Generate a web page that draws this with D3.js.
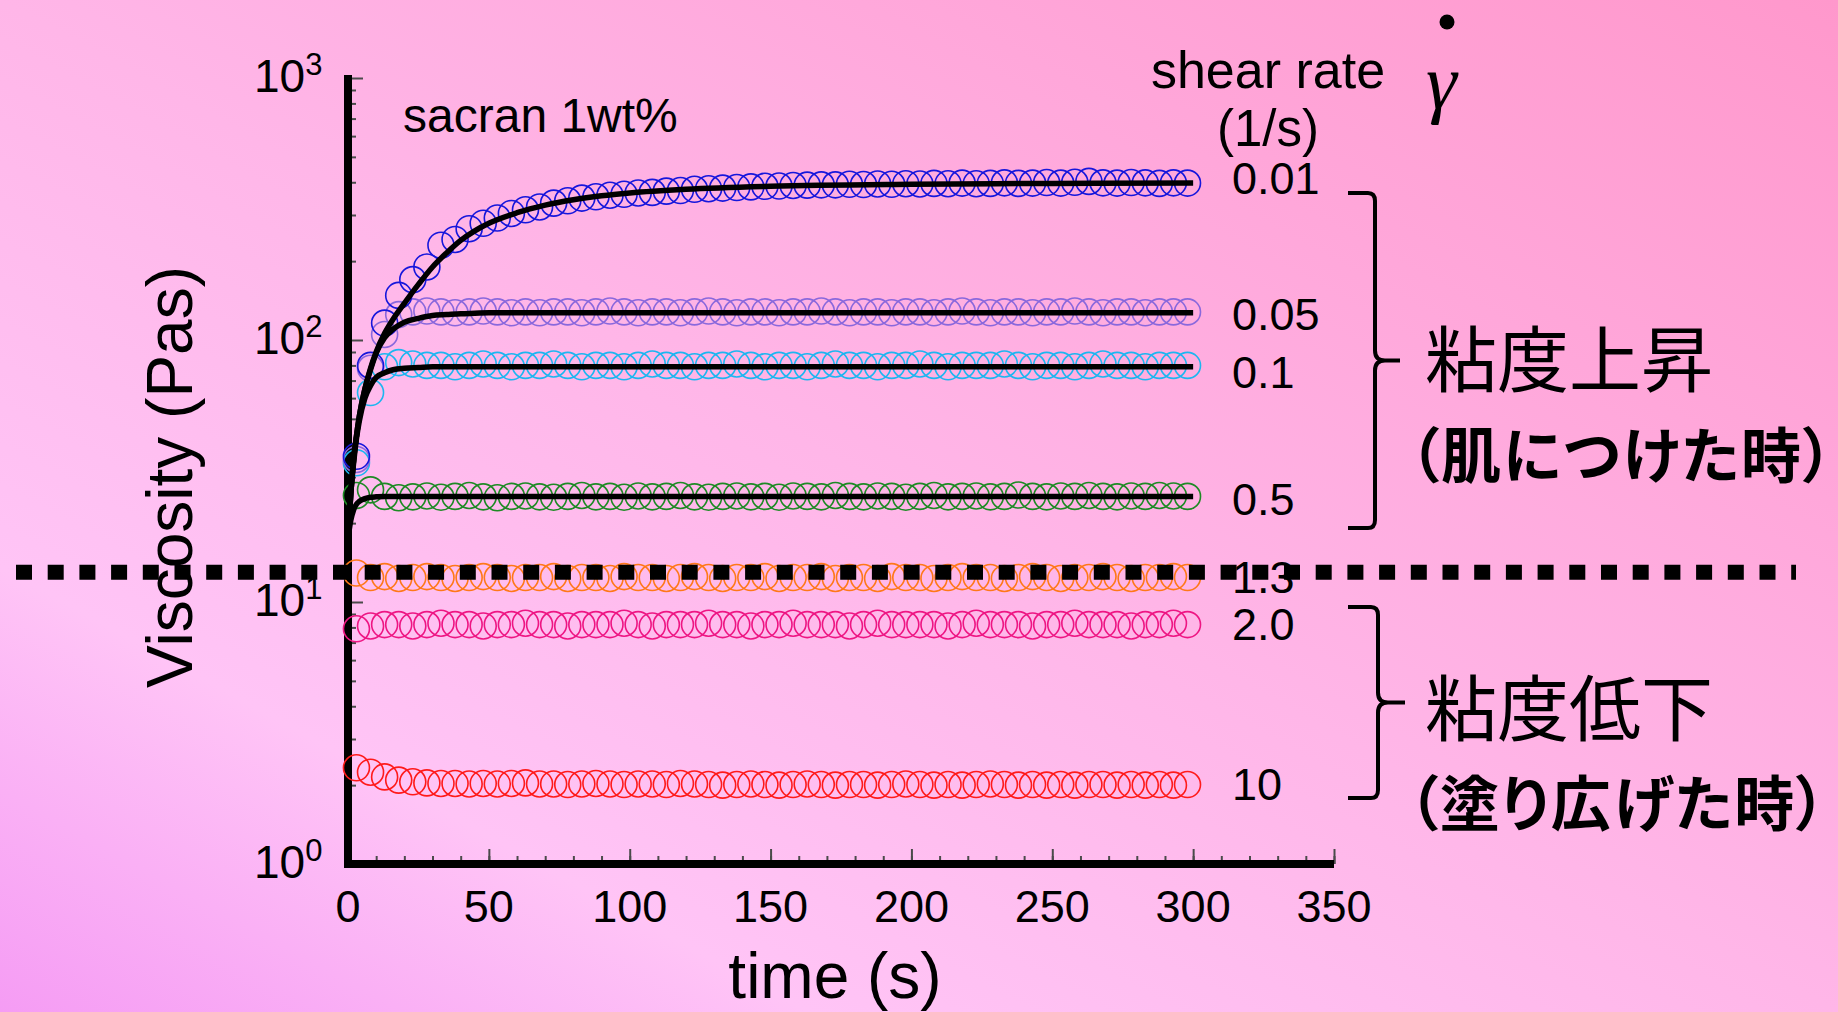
<!DOCTYPE html>
<html>
<head>
<meta charset="utf-8">
<script src="https://cdn.jsdelivr.net/npm/d3@7"></script>
<style>
  html, body { margin: 0; padding: 0; overflow: hidden; }
  svg { display: block; }
  text { font-family: "Liberation Sans", Arial, sans-serif; fill: #000; }
  .jp { font-family: "Noto Sans CJK JP", sans-serif; }
</style>
</head>
<body>
<svg id="chart" width="1838" height="1012"></svg>
<script>
// measured time points (s)
var timePoints = [3,8,13,18,23,28,33,38,43,48,53,58,63,68,73,78,83,88,93,98,
  103,108,113,118,123,128,133,138,143,148,153,158,163,168,173,178,183,188,193,198,
  203,208,213,218,223,228,233,238,243,248,253,258,263,268,273,278,283,288,293,298];

// viscosity (Pas) per shear rate
var visc001 = [36,80,116,148,170,190,230,242,266,279,
  292,304,314,322,333,340,348,352,357,360,
  364,366,370,372,376,378,380,382,384,386,
  387,389,390,391,391,393,392,394,393,395,
  394,396,395,397,395,396,398,396,397,399,
  397,400,403,398,397,399,398,396,398,397];
var visc005 = [35,78,105,125,128,129,128,127,128,129,
  128,127,128,127,128,128,127,128,129,128,
  127,128,128,127,128,129,128,127,128,128,
  127,128,128,129,128,127,128,128,127,128,
  128,127,128,129,128,127,128,128,127,128,
  128,129,128,127,128,128,127,128,128,128];
var visc01 = [34,63,79,82,81,80,80,79,80,81,
  80,79,80,80,81,80,79,80,80,79,
  80,81,80,80,79,80,80,81,80,79,
  80,80,79,80,81,80,80,79,80,80,
  81,80,79,80,80,80,81,80,79,80,
  80,79,80,81,80,80,79,80,80,80];
var visc05 = [25.5,26.8,25.3,25.0,25.2,25.4,25.1,25.3,25.5,25.2,
  25.0,25.3,25.4,25.2,25.1,25.3,25.5,25.2,25.3,25.1,
  25.4,25.2,25.3,25.5,25.2,25.1,25.3,25.4,25.2,25.3,
  25.1,25.4,25.3,25.2,25.5,25.3,25.2,25.4,25.3,25.1,
  25.3,25.5,25.2,25.3,25.4,25.2,25.3,25.6,25.3,25.2,
  25.4,25.3,25.5,25.3,25.2,25.4,25.3,25.5,25.4,25.3];
var visc13 = [12.9,12.4,12.5,12.3,12.4,12.5,12.4,12.3,12.4,12.5,
  12.4,12.3,12.4,12.4,12.5,12.3,12.4,12.4,12.3,12.5,
  12.4,12.4,12.3,12.4,12.5,12.4,12.3,12.4,12.4,12.5,
  12.3,12.4,12.4,12.5,12.3,12.4,12.4,12.3,12.5,12.4,
  12.4,12.3,12.4,12.5,12.4,12.4,12.3,12.4,12.5,12.4,
  12.3,12.4,12.4,12.5,12.4,12.3,12.4,12.4,12.5,12.4];
var visc20 = [7.9,8.1,8.2,8.2,8.1,8.2,8.3,8.2,8.2,8.1,
  8.2,8.2,8.3,8.2,8.2,8.1,8.2,8.2,8.2,8.3,
  8.2,8.1,8.2,8.2,8.2,8.3,8.2,8.2,8.1,8.2,
  8.2,8.3,8.2,8.2,8.2,8.1,8.2,8.3,8.2,8.2,
  8.2,8.2,8.1,8.2,8.3,8.2,8.2,8.2,8.1,8.2,
  8.2,8.3,8.2,8.2,8.2,8.1,8.2,8.2,8.3,8.2];
var visc10 = [2.33,2.24,2.15,2.09,2.06,2.04,2.03,2.03,2.02,2.03,
  2.02,2.03,2.04,2.02,2.02,2.01,2.02,2.03,2.02,2.01,
  2.02,2.02,2.01,2.03,2.02,2.01,2.00,2.01,2.02,2.01,
  2.00,2.01,2.02,2.01,2.00,2.01,2.01,2.00,2.01,2.02,
  2.01,2.00,2.01,2.00,2.01,2.02,2.01,2.00,2.01,2.00,
  2.01,2.00,2.01,2.01,2.00,2.01,2.00,2.01,2.00,2.01];

// fitted curves (black lines)
var fitTime = [0,1,2,3,4,6,8,10,13,16,20,25,30,35,40,45,50,60,70,80,90,100,120,150,200,250,300];
var fit001 = [17,26,35,43,51,65,78,90,106,120,138,163,190,215,240,261,279,306,327,343,355,364,376,386,393,396,397];
var fit005 = [17,26,35,43,51,65,77,89,102,110,117,121,124,125,126,126.5,127,127,127,127,127,127,127,127,127,127,127];
var fit01 = [17,26,34,42,49,60,67,72,75,77,78,78.5,79,79,79,79,79,79,79,79,79,79,79,79,79,79,79];
var fit05 = [17.5,20.5,22.5,23.6,24.2,24.8,25.1,25.2,25.3,25.3,25.3,25.3,25.3,25.3,25.3,25.3,25.3,25.3,25.3,25.3,25.3,25.3,25.3,25.3,25.3,25.3,25.3];

var rateLabels = ["0.01", "0.05", "0.1", "0.5", "1.3", "2.0", "10"];
var xTickValues = [0, 50, 100, 150, 200, 250, 300, 350];
var yDecades = [0, 1, 2, 3];
var thresholdVisc = 13;

var W = 1838, H = 1012;
var svg = d3.select("#chart");

// background gradient
var defs = svg.append("defs");
var grad = defs.append("linearGradient")
  .attr("id", "bg")
  .attr("x1", "0").attr("y1", "1").attr("x2", "1").attr("y2", "0");
grad.append("stop").attr("offset", "0%").attr("stop-color", "#f59cf4");
grad.append("stop").attr("offset", "22%").attr("stop-color", "#ffc4f6");
grad.append("stop").attr("offset", "50%").attr("stop-color", "#ffb6e8");
grad.append("stop").attr("offset", "100%").attr("stop-color", "#ff98cc");
svg.append("rect").attr("width", W).attr("height", H).attr("fill", "url(#bg)");

var x = d3.scaleLinear().domain([0, 350]).range([348, 1334]);
var y = d3.scaleLog().domain([1, 1000]).range([864, 78]);

// ticks (inside)
var minorY = [];
for (var d = 1; d < 1000; d *= 10) {
  for (var k = 2; k <= 9; k++) minorY.push(d * k);
}
var tickCol = "#4a4a4a";
function styleTicks(g) {
  g.select(".domain").remove();
  g.selectAll(".tick line").attr("stroke", tickCol).attr("stroke-width", 2);
}
svg.append("g").attr("transform", "translate(" + x(0) + ",0)")
  .call(d3.axisRight(y).tickValues(minorY).tickSize(8).tickFormat(""))
  .call(styleTicks);
svg.append("g").attr("transform", "translate(" + x(0) + ",0)")
  .call(d3.axisRight(y).tickValues(yDecades.map(function (e) { return Math.pow(10, e); })).tickSize(15).tickFormat(""))
  .call(styleTicks);
svg.append("g").attr("transform", "translate(0," + y(1) + ")")
  .call(d3.axisTop(x).tickValues(d3.range(0, 351, 10)).tickSize(8).tickFormat(""))
  .call(styleTicks);
svg.append("g").attr("transform", "translate(0," + y(1) + ")")
  .call(d3.axisTop(x).tickValues(xTickValues).tickSize(15).tickFormat(""))
  .call(styleTicks);

// thick axis lines
svg.append("line").attr("x1", x(0)).attr("x2", x(0)).attr("y1", y(1000) - 3).attr("y2", y(1) + 4)
  .attr("stroke", "#000").attr("stroke-width", 8);
svg.append("line").attr("x1", x(0) - 4).attr("x2", x(350)).attr("y1", y(1)).attr("y2", y(1))
  .attr("stroke", "#000").attr("stroke-width", 8);

// tick labels
svg.selectAll(".xlab").data(xTickValues).enter().append("text")
  .attr("x", function (v) { return x(v); })
  .attr("y", 922)
  .attr("text-anchor", "middle")
  .style("font-size", "45px")
  .text(function (v) { return v; });

var ylab = svg.selectAll(".ylab").data(yDecades).enter().append("text")
  .attr("x", 254)
  .attr("y", function (e) { return y(Math.pow(10, e)) + 14; })
  .style("font-size", "46px");
ylab.append("tspan").text("10");
ylab.append("tspan").attr("dy", -17).style("font-size", "31px").text(function (e) { return e; });

// axis titles
svg.append("text").attr("x", 835).attr("y", 998).attr("text-anchor", "middle")
  .style("font-size", "64px").text("time (s)");
svg.append("text").attr("transform", "translate(192,477) rotate(-90)").attr("text-anchor", "middle")
  .style("font-size", "64px").text("Viscosity (Pas)");

svg.append("text").attr("x", 403).attr("y", 132).style("font-size", "48px").text("sacran 1wt%");

// series
var series = [
  { label: "10", values: visc10, color: "#ff1a1a" },
  { label: "2.0", values: visc20, color: "#ee1583" },
  { label: "1.3", values: visc13, color: "#ff7818" },
  { label: "0.5", values: visc05, color: "#1d8a24", fit: fit05 },
  { label: "0.1", values: visc01, color: "#1cb6f0", fit: fit01 },
  { label: "0.05", values: visc005, color: "#8a68dc", fit: fit005 },
  { label: "0.01", values: visc001, color: "#1616dc", fit: fit001 }
];

series.forEach(function (s) {
  svg.append("g").selectAll("circle").data(s.values).enter().append("circle")
    .attr("cx", function (v, i) { return x(timePoints[i]); })
    .attr("cy", function (v) { return y(v); })
    .attr("r", 13)
    .attr("fill", "none")
    .attr("stroke", s.color)
    .attr("stroke-width", 1.6);
});

var fitLine = d3.line()
  .x(function (d) { return x(d[0]); })
  .y(function (d) { return y(d[1]); })
  .curve(d3.curveMonotoneX);
series.forEach(function (s) {
  if (!s.fit) return;
  svg.append("path")
    .datum(fitTime.map(function (t, i) { return [t, s.fit[i]]; }))
    .attr("d", fitLine)
    .attr("fill", "none")
    .attr("stroke", "#000")
    .attr("stroke-width", 5.5);
});

// shear rate labels at right end of each series
var labelDy = { "0.01": 11, "0.05": 18, "0.1": 23, "0.5": 19, "1.3": 15, "2.0": 15, "10": 15 };
series.forEach(function (s) {
  svg.append("text")
    .attr("x", 1232)
    .attr("y", y(s.values[s.values.length - 1]) + labelDy[s.label])
    .style("font-size", "45px")
    .text(s.label);
});

// header: shear rate (1/s) and gamma dot
svg.append("text").attr("x", 1268).attr("y", 88).attr("text-anchor", "middle")
  .style("font-size", "52px").text("shear rate");
svg.append("text").attr("x", 1268).attr("y", 146).attr("text-anchor", "middle")
  .style("font-size", "51px").text("(1/s)");
svg.append("text").attr("x", 1426).attr("y", 108)
  .style("font-family", "'Liberation Serif', 'Times New Roman', serif")
  .style("font-style", "italic").style("font-size", "78px").text("γ");
svg.append("circle").attr("cx", 1447).attr("cy", 22).attr("r", 7.5).attr("fill", "#000");

// braces
function brace(top, bottom, xv, nub) {
  var mid = (top + bottom) / 2;
  return "M1348," + top + " L" + (xv - 7) + "," + top + " Q" + xv + "," + top + " " + xv + "," + (top + 8) +
    " L" + xv + "," + (mid - 10) + " Q" + xv + "," + mid + " " + (xv + 10) + "," + mid + " L" + nub + "," + mid +
    " M" + (xv + 10) + "," + mid + " Q" + xv + "," + mid + " " + xv + "," + (mid + 10) +
    " L" + xv + "," + (bottom - 8) + " Q" + xv + "," + bottom + " " + (xv - 7) + "," + bottom + " L1348," + bottom;
}
svg.append("path").attr("d", brace(193, 528, 1375, 1400))
  .attr("fill", "none").attr("stroke", "#000").attr("stroke-width", 4);
svg.append("path").attr("d", brace(607, 798, 1378, 1405))
  .attr("fill", "none").attr("stroke", "#000").attr("stroke-width", 4);

// Japanese annotations
svg.append("text").attr("class", "jp").attr("x", 1425).attr("y", 386)
  .style("font-size", "72px").text("粘度上昇");
svg.append("text").attr("class", "jp").attr("x", 1409).attr("y", 478)
  .attr("textLength", 424).attr("lengthAdjust", "spacing")
  .style("font-feature-settings", "'palt'")
  .style("font-size", "60px").style("font-weight", "700").text("（肌につけた時）");
svg.append("text").attr("class", "jp").attr("x", 1408).attr("y", 826)
  .attr("textLength", 418).attr("lengthAdjust", "spacing")
  .style("font-feature-settings", "'palt'")
  .style("font-size", "60px").style("font-weight", "700").text("（塗り広げた時）");
svg.append("text").attr("class", "jp").attr("x", 1425).attr("y", 735)
  .style("font-size", "72px").text("粘度低下");

// dotted threshold line
svg.append("line")
  .attr("x1", 16).attr("x2", 1796)
  .attr("y1", y(thresholdVisc)).attr("y2", y(thresholdVisc))
  .attr("stroke", "#000").attr("stroke-width", 15)
  .attr("stroke-dasharray", "16,15.7");
</script>
</body>
</html>
